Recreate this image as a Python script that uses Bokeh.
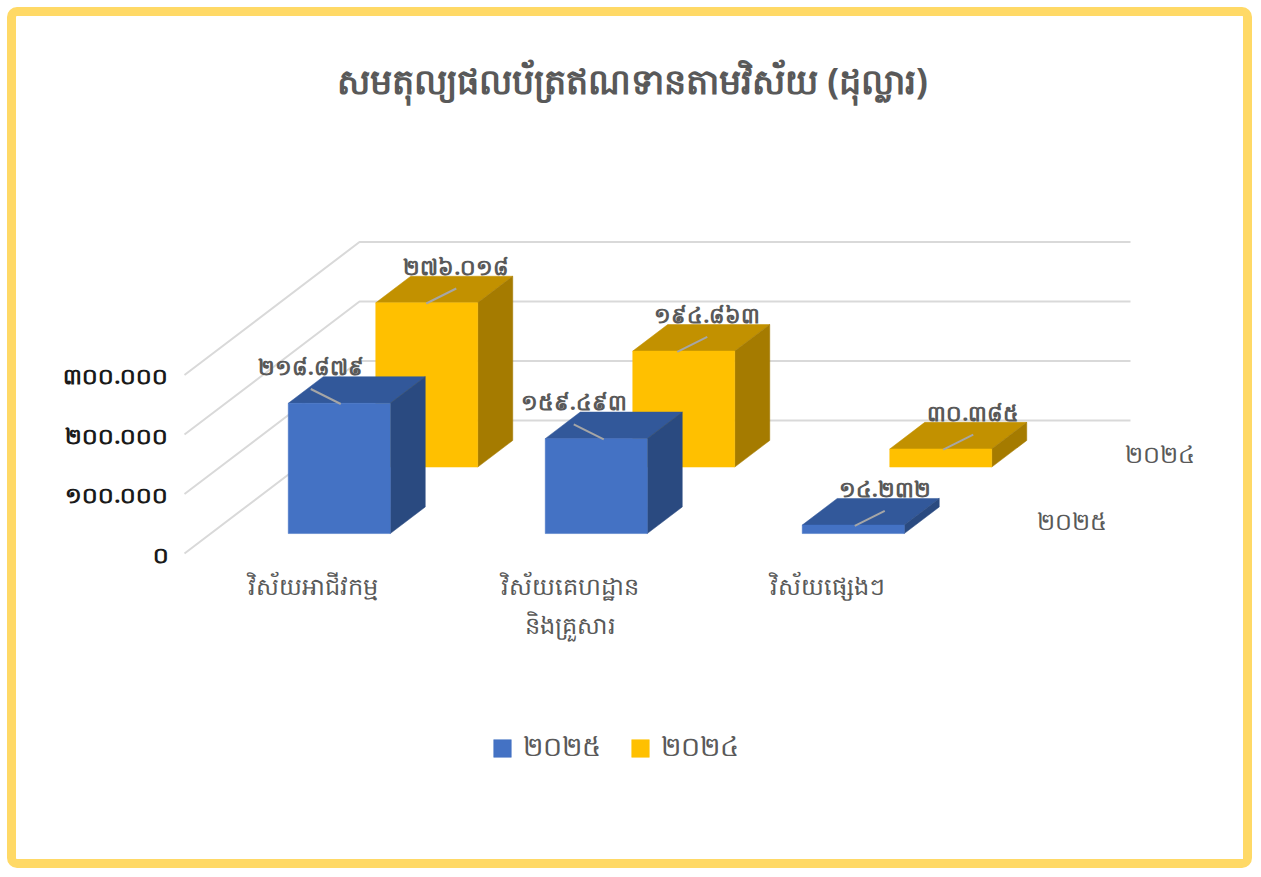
from bokeh.plotting import figure
from bokeh.models import Range1d, FixedTicker, Legend, LegendItem
from bokeh.layouts import column
from bokeh.core.properties import value
from bokeh.embed import file_html
from bokeh.resources import INLINE

# ---------------- data ----------------
title_text = "សមតុល្យផលប័ត្រឥណទានតាមវិស័យ (ដុល្លារ)"
categories = ["វិស័យអាជីវកម្ម", "វិស័យគេហដ្ឋាន\nនិងគ្រួសារ", "វិស័យផ្សេងៗ"]
years = [2025, 2024]
values_2025 = [218879, 159493, 14232]
values_2024 = [276018, 194863, 30385]
tick_values = [0, 100000, 200000, 300000]

# ---------------- styles ----------------
KH = str.maketrans("0123456789", "០១២៣៤៥៦៧៨៩")
def khmer(n):
    return f"{n:,}".replace(",", ".").translate(KH)

FONT = "Noto Sans"
GREY = "#595959"
face_colors = {2025: ("#4472C4", "#32589A", "#2A4A80"),
               2024: ("#FFC000", "#C29100", "#A57B00")}

W, H = 1227, 843           # figure canvas (inside the yellow frame)
PAGE0 = 16                 # canvas origin on the page
FRAME_L = 166              # canvas px where the plot frame starts
PX_X = 257.0               # px per category
PX_V = 0.000595            # px per dollar
DEPTH_DX, DEPTH_DY = 175.0, 133.0   # full depth of the 3D box, px
ORIGIN_X_PAGE, ORIGIN_Y_PAGE = 184.0, 553.0
BAR_W = 0.397
ROW_D0 = [0.15, 0.65]      # depth where each series row starts
ROW_DD = 0.2               # row depth

frame_w = W - FRAME_L
x_start = (PAGE0 + FRAME_L - ORIGIN_X_PAGE) / PX_X
x_range = Range1d(x_start, x_start + frame_w / PX_X)
y_top = (ORIGIN_Y_PAGE - PAGE0) / PX_V
y_range = Range1d(y_top - H / PX_V, y_top)

def proj(x, v, d):
    return x + d * DEPTH_DX / PX_X, v + d * DEPTH_DY / PX_V

def pdx(px):
    return px / PX_X

def pdy(px):  # px downward -> value units
    return -px / PX_V

p = figure(width=W, height=H, x_range=x_range, y_range=y_range,
           output_backend="svg", toolbar_location=None,
           x_axis_location=None, y_axis_location="left",
           min_border_left=FRAME_L, min_border_right=0,
           min_border_top=0, min_border_bottom=0)
p.outline_line_color = None
p.xgrid.visible = False
p.ygrid.visible = False
p.background_fill_color = "white"
p.border_fill_color = "white"

ax = p.yaxis[0]
ax.ticker = FixedTicker(ticks=tick_values)
ax.major_label_overrides = {t: khmer(t) for t in tick_values}
ax.axis_line_color = None
ax.major_tick_line_color = None
ax.minor_tick_line_color = None
ax.major_label_standoff = 8
ax.major_label_text_font = FONT
ax.major_label_text_font_size = "22px"
ax.major_label_text_font_style = "bold"
ax.major_label_text_color = "#1a1a1a"

# ---------------- walls / gridlines ----------------
ncat = len(categories)
for t in tick_values:
    x0, y0 = proj(0, t, 0)
    x1, y1 = proj(0, t, 1)
    x2, y2 = proj(ncat, t, 1)
    p.line([x0, x1, x2], [y0, y1, y2], line_color="#D9D9D9", line_width=2)

# ---------------- bars ----------------
series = {2025: values_2025, 2024: values_2024}
label_dx = {2025: [-46, -40, 14], 2024: [12, 6, 15]}
front_renderers = {}
for s in [1, 0]:           # back row first
    yr = years[s]
    vals = series[yr]
    c_front, c_top, c_side = face_colors[yr]
    ds, de = ROW_D0[s], ROW_D0[s] + ROW_DD
    lefts, rights, bottoms, tops = [], [], [], []
    top_xs, top_ys, side_xs, side_ys = [], [], [], []
    for i, v in enumerate(vals):
        xa, xb = i + 0.5 - BAR_W / 2, i + 0.5 + BAR_W / 2
        l, b = proj(xa, 0, ds)
        r, t = proj(xb, v, ds)
        lefts.append(l); rights.append(r); bottoms.append(b); tops.append(t)
        pts = [proj(xa, v, ds), proj(xb, v, ds), proj(xb, v, de), proj(xa, v, de)]
        top_xs.append([q[0] for q in pts]); top_ys.append([q[1] for q in pts])
        pts = [proj(xb, 0, ds), proj(xb, v, ds), proj(xb, v, de), proj(xb, 0, de)]
        side_xs.append([q[0] for q in pts]); side_ys.append([q[1] for q in pts])
    p.patches(top_xs, top_ys, fill_color=c_top, line_color=c_top, line_width=0.5)
    p.patches(side_xs, side_ys, fill_color=c_side, line_color=c_side, line_width=0.5)
    front_renderers[yr] = p.quad(left=lefts, right=rights, bottom=bottoms, top=tops,
                                 fill_color=c_front, line_color=c_front, line_width=0.5)

    # data labels + leader lines
    lx, ly, lt = [], [], []
    for i, v in enumerate(vals):
        cx, cy = proj(i + 0.5, v, (ds + de) / 2)
        tx = cx + pdx(label_dx[yr][i])
        ty = cy + pdy(-24)
        lx.append(tx); ly.append(ty); lt.append(khmer(v))
        sign = 1 if cx > tx else -1
        p.segment(x0=[tx], y0=[ty + pdy(23)], x1=[tx + pdx(30 * sign)], y1=[ty + pdy(38)],
                  line_color="#A6A6A6", line_width=2)
    p.text(lx, ly, text=lt, text_align="center", text_baseline="middle",
           text_font=value(FONT), text_font_size="22px", text_font_style="bold",
           text_color=GREY)

# category labels
cx = [i + 0.5 for i in range(ncat)]
cy = [0 + pdy(15)] * ncat
p.text(cx, cy, text=categories, text_align="center", text_baseline="top",
       text_font=value(FONT), text_font_size="24px", text_color=GREY,
       text_line_height=1.2)

# depth-axis labels
dl_x, dl_y = [], []
for s in range(2):
    x, y = proj(ncat, 0, ROW_D0[s] + ROW_DD / 2)
    dl_x.append(x + pdx(38)); dl_y.append(y)
p.text(dl_x, dl_y, text=[str(y).translate(KH) for y in years], text_align="left",
       text_baseline="middle", text_font=value(FONT), text_font_size="24px",
       text_color=GREY)

# title
p.text([(632 - ORIGIN_X_PAGE) / PX_X], [(ORIGIN_Y_PAGE - 80) / PX_V], text=[title_text],
       text_align="center", text_baseline="middle", text_font=value(FONT),
       text_font_size="35px", text_font_style="bold", text_color=GREY)

legend = Legend(items=[LegendItem(label=str(y).translate(KH), renderers=[front_renderers[y]])
                       for y in years],
                orientation="horizontal", location=(309, 90),
                label_text_font=FONT, label_text_font_size="27px", label_text_color=GREY,
                glyph_width=22, glyph_height=22, label_standoff=10, spacing=28,
                padding=0, margin=0, border_line_color=None, background_fill_alpha=0)
p.add_layout(legend)

layout = column(p, styles={"border": "9px solid #FFD966", "border-radius": "10px",
                           "margin": "7px"})
open("out.html", "w").write(file_html(layout, INLINE))
